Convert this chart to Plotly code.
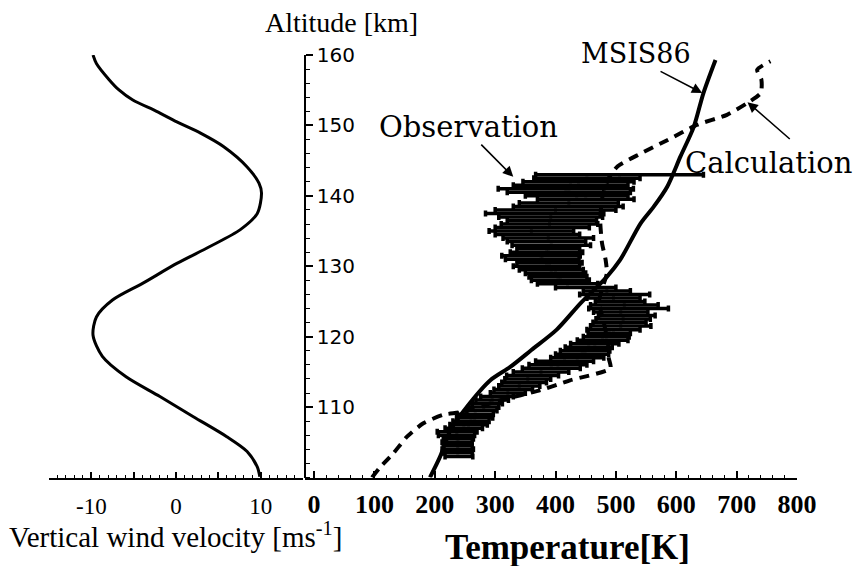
import plotly.graph_objects as go

# Vertical wind velocity profile [m/s] vs altitude [km]
wind_alt = [100.1, 101.5, 103.7, 105.8, 108.6, 111.5, 114.3, 117.2, 120.2, 122.8,
            125.2, 127.6, 130.4, 132.8, 135.2, 137.5, 140.4, 141.8, 144.1, 147.0,
            148.9, 150.5, 152.0, 153.6, 155.0, 156.5, 158.8, 160.0]
wind_vel = [9.9, 9.6, 8.4, 6.0, 2.1, -1.9, -5.9, -8.7, -9.8, -9.4,
            -7.5, -3.9, 0.1, 4.0, 7.6, 9.6, 10.1, 9.8, 8.4, 5.6,
            2.9, 0.1, -2.3, -5.1, -6.7, -7.9, -9.4, -9.8]

# MSIS86 model temperature [K]
msis_alt = [100.0, 103.0, 106.7, 110.0, 113.8, 115.7, 118.1, 121.0, 124.8, 128.5,
            130.9, 136.1, 138.5, 141.3, 145.6, 149.8, 154.6, 159.3]
msis_temp = [192, 209, 226, 253, 292, 325, 360, 402, 442, 485,
             507, 541, 563, 585, 607, 629, 645, 665]

# Calculated temperature [K]
calc_alt = [100.0, 101.5, 103.4, 105.8, 107.7, 108.9, 109.3, 111.0, 112.4, 113.8,
            115.5, 117.0, 119.0, 122.0, 125.0, 127.0, 129.0, 130.9, 133.3, 136.6,
            140.0, 142.5, 144.2, 146.0, 147.9, 150.1, 151.5, 153.2, 154.6, 156.5,
            157.9, 159.1]
calc_temp = [96, 110, 131, 154, 181, 214, 245, 310, 375, 424,
             491, 488, 487, 480, 472, 478, 485, 483, 477, 474,
             478, 488, 503, 541, 585, 635, 684, 718, 740, 741,
             734, 756]

# Observed temperature [K] with error bars
obs_alt = [103.0, 103.5, 104.0, 104.5, 105.0, 105.5, 106.0, 106.5, 107.0, 107.5,
           108.0, 108.5, 109.0, 109.5, 110.0, 110.5, 111.0, 111.5, 112.0, 112.5,
           113.0, 113.5, 114.0, 114.5, 115.0, 115.5, 116.0, 116.5, 117.0, 117.5,
           118.0, 118.5, 119.0, 119.5, 120.0, 120.5, 121.0, 121.5, 122.0, 122.5,
           123.0, 123.5, 124.0, 124.5, 125.0, 125.5, 126.0, 126.5, 127.0, 127.5,
           128.0, 128.5, 129.0, 129.5, 130.0, 130.5, 131.0, 131.5, 132.0, 132.5,
           133.0, 133.5, 134.0, 134.5, 135.0, 135.5, 136.0, 136.5, 137.0, 137.5,
           138.0, 138.5, 139.0, 139.5, 140.0, 140.5, 141.0, 141.5, 142.0, 142.5,
           143.0]
obs_temp = [240, 238, 238, 238, 237, 239, 236, 237, 248, 256,
            260, 266, 267, 278, 281, 287, 295, 303, 321, 330,
            340, 348, 354, 362, 376, 393, 404, 415, 436, 444,
            449, 455, 465, 478, 484, 489, 496, 508, 506, 512,
            518, 508, 521, 514, 507, 496, 498, 485, 450, 420,
            408, 404, 400, 393, 385, 390, 378, 376, 385, 388,
            393, 385, 388, 370, 360, 378, 390, 394, 392, 382,
            400, 421, 422, 450, 435, 422, 417, 425, 438, 452,
            506]
obs_err = [23, 24, 26, 24, 25, 25, 30, 33, 31, 31,
           30, 30, 30, 25, 25, 25, 27, 27, 29, 32,
           34, 37, 38, 43, 46, 48, 48, 48, 44, 44,
           41, 39, 40, 42, 38, 35, 44, 50, 44, 45,
           47, 45, 66, 56, 41, 44, 58, 39, 50, 50,
           48, 48, 50, 53, 55, 54, 61, 65, 60, 52,
           65, 65, 75, 70, 70, 78, 80, 74, 86, 98,
           100, 91, 82, 80, 85, 102, 112, 95, 92, 88,
           139]

W, H = 861, 566
serif = "Liberation Serif, Times New Roman, serif"
label_font = "DejaVu Serif, serif"

fig = go.Figure()

fig.add_trace(go.Scatter(
    x=wind_vel, y=wind_alt, xaxis="x", yaxis="y", mode="lines",
    line=dict(color="black", width=3, shape="spline", smoothing=0.8),
    showlegend=False))

fig.add_trace(go.Scatter(
    x=obs_temp, y=obs_alt, xaxis="x2", yaxis="y", mode="markers",
    marker=dict(color="black", size=3, symbol="square"),
    error_x=dict(type="data", array=obs_err, color="black", thickness=3.5, width=3),
    showlegend=False))

fig.add_trace(go.Scatter(
    x=calc_temp, y=calc_alt, xaxis="x2", yaxis="y", mode="lines",
    line=dict(color="black", width=4, dash="10px,7px", shape="spline", smoothing=0.6),
    showlegend=False))

fig.add_trace(go.Scatter(
    x=msis_temp, y=msis_alt, xaxis="x2", yaxis="y", mode="lines",
    line=dict(color="black", width=4, shape="spline", smoothing=0.8),
    showlegend=False))

fig.update_layout(
    width=W, height=H,
    margin=dict(l=0, r=0, t=0, b=0, pad=0, autoexpand=False),
    paper_bgcolor="white", plot_bgcolor="white",
    xaxis=dict(
        domain=[49 / W, 303 / W], range=[-15, 15], anchor="y", automargin=False,
        showline=True, linecolor="black", linewidth=1.5, showgrid=False, zeroline=False,
        tickvals=[-15, -10, -5, 0, 5, 10, 15],
        ticktext=["", "-10", "", "0", "", "10", ""],
        ticks="inside", ticklen=6, tickwidth=1.5, tickcolor="black",
        minor=dict(dtick=1, ticks="inside", ticklen=3, tickwidth=1, tickcolor="black"),
        ticklabelstandoff=7,
        tickfont=dict(family=serif, size=23, color="black"),
    ),
    xaxis2=dict(
        domain=[305 / W, 797 / W], range=[-15, 800], anchor="y", automargin=False,
        showline=True, linecolor="black", linewidth=1.5, showgrid=False, zeroline=False,
        tick0=0, dtick=100,
        ticks="inside", ticklen=7, tickwidth=1.5, tickcolor="black",
        minor=dict(dtick=20, ticks="inside", ticklen=3, tickwidth=1, tickcolor="black"),
        ticklabelstandoff=3,
        tickfont=dict(family=serif, size=26, color="black", weight="bold"),
    ),
    yaxis=dict(
        domain=[1 - 477.5 / H, 1 - 55 / H], range=[100, 160], automargin=False,
        anchor="free", position=305 / W, side="right",
        showline=True, linecolor="black", linewidth=1.5, showgrid=False, zeroline=False,
        ticks="outside", ticklen=7, tickwidth=1.5, tickcolor="black",
        minor=dict(dtick=2, ticks="outside", ticklen=4, tickwidth=1, tickcolor="black"),
        tickfont=dict(family="DejaVu Sans, sans-serif", size=20, color="black"),
        tickvals=[110, 120, 130, 140, 150, 160],
    ),
)

annotations = [
    dict(text="Altitude [km]", x=341 / W, y=1 - 22 / H,
         font=dict(family=serif, size=28, color="black")),
    dict(text="Vertical wind velocity [ms<sup>-1</sup>]", x=175 / W, y=1 - 535 / H,
         font=dict(family=serif, size=29, color="black")),
    dict(text="<b>Temperature[K]</b>", x=567 / W, y=1 - 547 / H,
         font=dict(family=serif, size=35, color="black")),
    dict(text="MSIS86", x=636 / W, y=1 - 53 / H,
         font=dict(family=label_font, size=27, color="black")),
    dict(text="Observation", x=469 / W, y=1 - 127 / H,
         font=dict(family=label_font, size=29, color="black")),
    dict(text="Calculation", x=768 / W, y=1 - 163 / H,
         font=dict(family=label_font, size=29, color="black")),
]
for a in annotations:
    fig.add_annotation(xref="paper", yref="paper", showarrow=False,
                       xanchor="center", yanchor="middle", **a)

# Pointer arrows from the labels to their curves (head, tail in data units)
arrows = [
    ((643, 154.6), (569, 157.9)),
    ((718, 153.3), (793, 147.7)),
    ((330, 142.7), (272, 147.7)),
]
for (hx, hy), (tx, ty) in arrows:
    fig.add_annotation(xref="x2", yref="y", axref="x2", ayref="y",
                       x=hx, y=hy, ax=tx, ay=ty, text=" ",
                       showarrow=True, arrowhead=2, arrowsize=1.3,
                       arrowwidth=1.6, arrowcolor="black")

fig.write_html("out.html")
